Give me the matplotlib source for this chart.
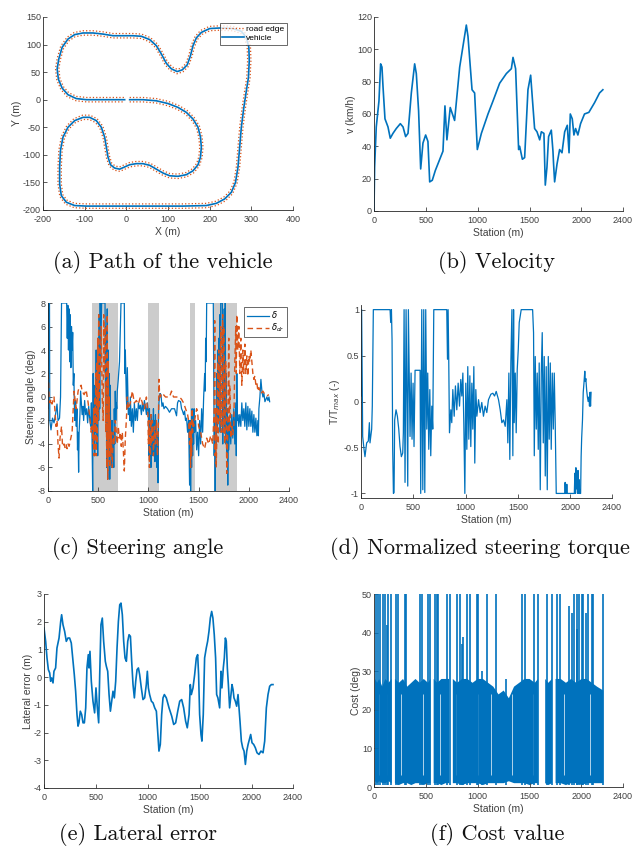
import numpy as np
import matplotlib
matplotlib.use("Agg")
import matplotlib.pyplot as plt

plt.rcParams['font.family'] = ['Liberation Sans', 'DejaVu Sans']
plt.rcParams['axes.unicode_minus'] = False

BLUE = '#0072BD'
ORANGE = '#D95319'
GREY = '#404040'

# ---------------- (a) path of the vehicle: (x, y) in m ----------------
path_xy = [(8, 0), (40, 0), (72, -2), (100, -7), (124, -14), (144, -23), (160, -35), (172, -50),
           (178, -68), (180, -86), (178, -104), (172, -118), (160, -129), (144, -136),
           (124, -139), (104, -138), (88, -133), (72, -126), (56, -119), (40, -116), (24, -116),
           (8, -118), (-4, -122), (-16, -126), (-28, -124), (-38, -118), (-44, -104),
           (-48, -86), (-52, -68), (-60, -50), (-72, -38), (-88, -32), (-104, -32), (-124, -38),
           (-140, -50), (-152, -68), (-158, -92), (-160, -122), (-160, -153), (-156, -174),
           (-144, -186), (-124, -192), (-96, -193), (-24, -193), (56, -193), (136, -193),
           (192, -192), (216, -188), (236, -180), (252, -168), (262, -150), (268, -122),
           (272, -86), (276, -50), (282, -14), (288, 16), (293, 40), (295, 71), (294, 95),
           (288, 113), (276, 124), (256, 129), (224, 130), (200, 129), (180, 122), (168, 112),
           (160, 98), (154, 80), (146, 63), (134, 54), (122, 51), (108, 56), (96, 66), (84, 83),
           (72, 98), (56, 109), (36, 115), (16, 116), (-4, 116), (-32, 116), (-56, 119),
           (-80, 121), (-104, 121), (-124, 118), (-140, 110), (-154, 95), (-162, 74),
           (-166, 56), (-163, 37), (-154, 21), (-140, 9), (-120, 2), (-96, 0), (-48, 0), (-4, 0)]
edge_offset = [4.0, -4.0]

# ---------------- (b) velocity: (station, km/h) ----------------
vel_pts = [(0, 0), (6, 27), (22, 52), (48, 68), (64, 91), (77, 89), (87, 77), (106, 57), (135, 52),
           (157, 45), (183, 48), (215, 51), (254, 54), (280, 52), (305, 46), (328, 48), (360, 73),
           (392, 91), (408, 85), (430, 62), (450, 26), (472, 42), (498, 47), (520, 43), (537, 18),
           (562, 19), (591, 25), (665, 37), (684, 65), (703, 44), (735, 64), (777, 56), (826, 89),
           (890, 115), (906, 108), (945, 75), (970, 73), (996, 38), (1035, 48), (1099, 60),
           (1147, 68), (1211, 79), (1276, 85), (1324, 88), (1340, 95), (1365, 88), (1394, 38),
           (1404, 40), (1430, 32), (1452, 33), (1484, 75), (1510, 84), (1526, 70), (1548, 51),
           (1571, 49), (1597, 44), (1613, 49), (1638, 48), (1651, 16), (1667, 27), (1683, 46),
           (1709, 50), (1725, 37), (1731, 29), (1741, 18), (1764, 29), (1789, 38), (1812, 36),
           (1838, 49), (1863, 53), (1880, 36), (1892, 60), (1911, 57), (1927, 47), (1943, 51),
           (1965, 47), (1991, 54), (2029, 60), (2071, 61), (2126, 67), (2174, 73), (2206, 75)]

# ---------------- (c) steering angle: (station, deg) ----------------
shade_start = [440, 995, 1410, 1655]
shade_end = [700, 1105, 1460, 1880]

delta_pts = [(0, -1), (3, 8), (15, 8), (18, -2), (30, -2.8), (45, -1.8), (60, -2.2), (75, -1.5),
             (90, -0.6), (100, -2), (115, -1.8), (125, 0), (135, 8), (186, 8), (192, 5),
             (198, 7.8), (204, 4), (210, 7.5), (216, 3), (222, 7), (228, 2.5), (234, 6), (240, 4),
             (246, 5.5), (252, 1), (258, 2), (262, -0.5), (268, -2), (275, -0.3), (282, -2.5),
             (288, -1), (294, -4.5), (299, -3), (305, -6.4), (310, -3), (318, -1.5), (325, 0.5),
             (332, -0.5), (340, -1.5), (348, -0.8), (355, -2), (365, -0.3), (375, -1.5),
             (385, -1), (395, -2.2), (405, -0.8), (415, -1.8), (425, -2.5), (432, -0.5),
             (438, -3), (445, -8), (450, 2), (455, -4), (460, 1), (465, -5), (470, 0), (475, -3),
             (480, 4), (485, -4), (490, 2), (495, -5), (500, 5), (505, -2), (510, 7), (515, -1),
             (520, 8), (525, 3), (534, 8), (568, 8), (575, -2), (580, 6), (585, -6), (590, 7.5),
             (595, -7), (600, 4), (605, -5), (610, 2), (615, -7), (620, 1), (625, -5), (630, -2),
             (635, -6), (640, -2), (645, -5), (650, -3), (655, -6), (660, -1), (665, -4),
             (670, 0.5), (675, -2), (680, -0.5), (685, -1), (690, 0.5), (700, 1.5), (712, 3),
             (727, 8), (760, 8), (765, 2), (770, 4), (780, 0), (785, -1), (790, 2.5),
             (800, -1.5), (810, -1), (815, -2), (820, 0), (830, -2.5), (840, -1), (850, -3),
             (860, -0.5), (870, -2), (880, -1), (890, -2), (900, -0.5), (910, -1), (920, -0.7),
             (930, -1.5), (940, -0.5), (950, -1.2), (960, -0.3), (970, -0.8), (980, -1.5),
             (990, -0.5), (998, -1.2), (1000, -2), (1005, -5), (1010, -1), (1015, -4),
             (1020, -2), (1025, -6), (1030, -1.5), (1035, -4), (1040, -2), (1045, -5),
             (1050, -1), (1055, -4.5), (1060, -2), (1065, -5.5), (1070, -1.5), (1075, -4),
             (1080, -2.5), (1085, -6), (1090, -3), (1095, -7.3), (1100, -2), (1105, -0.5),
             (1115, 0.3), (1125, 0.2), (1135, -0.8), (1145, -0.5), (1155, -1), (1170, -0.8),
             (1190, -1), (1210, -1.3), (1230, -1), (1260, -1), (1280, -1.6), (1290, -0.5),
             (1300, -0.3), (1320, -0.4), (1330, -1), (1340, -1.2), (1350, -1.5), (1360, -1.2),
             (1370, -2), (1380, -1.8), (1390, -3), (1400, -2), (1410, -7.5), (1415, -2),
             (1420, -8), (1425, -3), (1430, -6), (1435, -1), (1440, -5), (1445, -2), (1450, -4),
             (1455, -1), (1460, -3), (1470, -2), (1480, -4.5), (1490, -3), (1500, -5),
             (1510, -2), (1520, -4), (1530, -1), (1540, -3), (1550, 0), (1560, 2), (1565, 0.5),
             (1570, 5), (1575, 3), (1580, 8), (1646, 8), (1655, -5), (1660, -2), (1665, -8),
             (1670, -1), (1675, -4), (1680, 2), (1685, -3), (1690, 4), (1695, -2), (1700, 5),
             (1705, -1), (1710, 7), (1715, -3), (1720, 8), (1736, 8), (1740, -4), (1745, 6),
             (1750, -2), (1755, 7.5), (1760, -3), (1765, 8), (1770, -4), (1775, 2), (1780, -5),
             (1785, -1), (1790, -7.5), (1795, -2), (1800, -4.5), (1810, -2), (1820, -4),
             (1830, -1.5), (1840, -3.5), (1850, -1), (1860, -4), (1870, -0.5), (1875, -5),
             (1880, 2), (1885, -2), (1890, -1.5), (1900, -2.5), (1910, -1.5), (1920, -2.5),
             (1930, -0.5), (1940, -2), (1950, -1), (1960, -2.5), (1970, -0.5), (1980, -2.8),
             (1990, -0.8), (2000, -2.5), (2010, -1), (2020, -2.5), (2030, -1.2), (2040, -3),
             (2050, -1.5), (2060, -3), (2070, -1.8), (2080, -3.3), (2090, -2), (2095, -3.3),
             (2100, -1), (2110, 0), (2120, 1.5), (2130, 0.5), (2140, 0), (2150, 0.3),
             (2160, -0.4), (2170, -0.2), (2180, 0), (2190, -0.3), (2200, 0), (2207, -0.4)]

ddr_pts = [(0, 2), (5, 1.5), (10, 0), (20, -0.5), (30, -0.2), (40, -0.6), (50, -0.2), (60, 0),
           (80, -2.5), (90, -2), (100, -4), (110, -5.2), (120, -3.5), (135, -2.5), (145, -4.2),
           (160, -4), (170, -4.3), (180, -4), (190, -4.4), (200, -4), (210, -4.2), (220, -3.8),
           (240, -3), (260, 0.5), (280, -1), (300, 0.5), (310, 0.8), (330, 1), (340, 0.5),
           (360, 0.2), (380, 0.6), (400, -0.5), (420, -2), (430, -3), (440, -2.5), (450, -4),
           (455, -1), (460, -5), (465, 0), (470, -3), (475, 2), (480, -5), (485, 3), (490, -4),
           (495, 5), (500, -2), (505, 7), (510, -1), (515, 4), (520, 2), (530, 6), (540, 0),
           (550, -2), (555, 7), (560, 2), (570, 6), (575, -3), (580, 1), (585, -6), (590, 7),
           (595, -7), (600, 3), (605, -5), (610, 0), (615, -6), (620, -2), (625, -5), (630, -3),
           (640, -6), (650, -3), (660, -4), (670, -2), (680, -3), (690, -4), (700, -2.5),
           (710, -3.5), (720, -3), (730, -4.2), (740, -3), (750, -4.5), (760, -6.3),
           (770, -3.5), (780, -2), (790, 0), (800, -1), (820, -0.5), (840, 0.5), (860, -0.5),
           (880, -0.3), (900, -0.6), (920, 0), (940, -0.5), (960, -1), (980, 0), (995, -1.5),
           (1000, -4), (1005, -2), (1010, -6), (1015, -3), (1020, -5), (1025, -1.5),
           (1030, -4), (1040, -2), (1050, -5), (1060, -2.5), (1070, -4), (1080, -2), (1090, -5),
           (1100, -2), (1105, 1.5), (1110, 0.5), (1120, 0), (1130, 0.3), (1150, 0.2), (1170, 0),
           (1190, 0), (1210, 0), (1230, 0.5), (1250, 0), (1270, 0), (1290, 0), (1310, 0),
           (1330, -0.2), (1350, -0.5), (1370, -1), (1390, -1.5), (1400, -2), (1410, -4),
           (1415, -2), (1420, -6), (1425, -3), (1430, -5), (1435, -1), (1440, -3), (1445, -2),
           (1450, -2.5), (1460, -2), (1470, -1.5), (1480, -1), (1490, -1.3), (1500, -2.5),
           (1520, -3), (1540, -4), (1560, -4.4), (1580, -3.5), (1600, -4), (1620, -3.3),
           (1640, -4), (1655, -1), (1660, 6.5), (1665, -5), (1670, -1), (1675, -6), (1680, -4),
           (1690, 3), (1695, -4), (1700, 4), (1710, -2), (1720, 6), (1725, -3), (1730, 4),
           (1740, 7), (1745, -3), (1750, 6), (1755, -1), (1760, -4), (1770, 3), (1780, -6.5),
           (1790, -3), (1800, 5), (1805, -3), (1810, 1), (1820, -3.5), (1830, -2.5),
           (1840, -3.2), (1850, -2.5), (1860, 3), (1870, 6), (1875, 2), (1880, 7), (1890, 4),
           (1900, 6), (1910, 2), (1920, 5), (1930, 1), (1940, 4), (1950, 2), (1960, 4.5),
           (1970, 2), (1980, 3.5), (1990, 1.8), (2000, 3.5), (2010, 3), (2020, 4), (2030, 3),
           (2040, 2), (2050, 1.5), (2060, 1.8), (2070, 1), (2080, 1.2), (2090, 0.5), (2100, 0.8),
           (2120, 0.3), (2140, 0.5), (2160, 0.2), (2180, 0.1), (2200, 0.2)]

# ---------------- (d) normalized steering torque: (station, T/Tmax) ----------------
torque_pts = [(0, 0.06), (6, 1), (16, -0.38), (29, -0.52), (38, -0.6), (54, -0.45), (70, -0.43),
              (80, -0.23), (86, -0.45), (102, -0.3), (108, -0.05), (112, 0.35), (118, 1),
              (278, 1), (284, 0.86), (291, 1), (297, 0.67), (303, -0.52), (310, -1),
              (316, -0.99), (322, -0.2), (335, -0.09), (348, -0.16), (361, -0.3), (373, -0.49),
              (386, -0.6), (399, -0.56), (405, -0.34), (412, 1), (421, -0.88), (431, 1),
              (440, -0.05), (447, -0.92), (453, 1), (463, 0.13), (469, -0.38), (479, 0.31),
              (488, -0.41), (498, 0.2), (507, -0.49), (517, 0.34), (565, 0.34), (571, -1),
              (581, 1), (591, -0.96), (600, 1), (610, -0.99), (619, 1), (629, -0.3), (638, 0.31),
              (648, -0.52), (658, 0.13), (667, -0.59), (677, -0.05), (686, -0.3), (696, 1),
              (820, 1), (827, 0.46), (833, 1), (839, 0.46), (846, -0.34), (859, -0.09),
              (868, -0.23), (878, 0.13), (891, -0.16), (903, 0.17), (916, -0.09), (929, 0.2),
              (942, -0.05), (954, 0.24), (964, 0.06), (974, 0.31), (983, -0.23), (993, -1),
              (1002, 0.2), (1012, -0.52), (1021, 0.38), (1031, -0.41), (1041, 0.28),
              (1050, -0.49), (1060, 0.2), (1069, -0.3), (1079, 0.38), (1088, -0.67),
              (1098, 0.13), (1108, -0.16), (1124, 0.02), (1139, -0.12), (1155, -0.01),
              (1171, -0.16), (1187, -0.05), (1203, -0.12), (1219, 0.02), (1242, 0.08),
              (1261, 0.09), (1277, 0.06), (1293, 0.11), (1315, 0.02), (1331, -0.09),
              (1347, -0.23), (1363, -0.2), (1379, -0.27), (1395, 0.02), (1404, -0.45),
              (1414, 0.31), (1423, -0.63), (1433, 0.42), (1443, 1), (1452, -0.59), (1459, 1),
              (1465, -0.23), (1475, 0.31), (1484, -0.34), (1494, 0.35), (1504, 0.57),
              (1513, 0.86), (1523, 0.93), (1532, 1), (1641, 1), (1650, 0.75), (1657, -0.59),
              (1666, 0.49), (1676, -0.3), (1685, 0.31), (1695, -0.52), (1704, 0.42),
              (1714, -0.96), (1724, 0.31), (1733, 0.75), (1743, -0.45), (1752, 0.49),
              (1762, -0.81), (1771, 0.38), (1781, -0.96), (1791, 0.49), (1800, -0.41),
              (1810, 0.42), (1819, -0.52), (1829, 0.31), (1839, -0.3), (1848, 0.31),
              (1857, -0.23), (1867, -1), (1950, -1), (1952, -0.88), (1955, -1), (1965, -1),
              (1968, -0.9), (1971, -1), (2040, -1), (2045, -0.78), (2050, -1), (2055, -0.72),
              (2060, -0.95), (2065, -0.8), (2070, -1), (2075, -0.75), (2080, -1), (2085, -0.85),
              (2090, -1), (2100, -1), (2105, -0.6), (2110, -0.4), (2118, -0.2), (2125, 0.1),
              (2132, 0.2), (2140, 0.33), (2145, 0.22), (2150, 0.25), (2158, 0.12), (2165, 0.05),
              (2172, 0.0), (2180, 0.05), (2185, -0.05), (2190, 0.1), (2195, -0.05), (2200, 0.1)]

# ---------------- (e) lateral error: (station, m) ----------------
lat_pts = [(0, 1.77), (16, 1.29), (29, 0.69), (42, 0.27), (55, 0.15), (64, -0.15), (74, -0.03),
           (87, -0.21), (96, 0.21), (112, 0.33), (125, 1.05), (145, 1.41), (161, 2.01),
           (170, 2.25), (183, 1.89), (199, 1.65), (215, 1.29), (231, 1.41), (247, 1.41),
           (263, 1.23), (280, 0.57), (292, 0.09), (305, -0.51), (318, -1.35), (328, -1.77),
           (337, -1.65), (350, -1.23), (363, -1.35), (376, -1.65), (389, -1.65), (402, -1.11),
           (414, 0.33), (427, 0.81), (434, 0.33), (443, 0.93), (456, -0.15), (472, -0.87),
           (488, -1.29), (501, -0.39), (514, -1.11), (527, -1.65), (537, 0.09), (549, 1.89),
           (562, 2.13), (575, 1.29), (591, 0.57), (601, 0.39), (614, 0.21), (627, -0.63),
           (640, -1.23), (652, -0.87), (665, -0.51), (678, -0.75), (691, -0.15), (704, 1.05),
           (717, 2.01), (730, 2.61), (742, 2.67), (755, 2.25), (768, 1.29), (781, 0.69),
           (794, 0.57), (807, 1.29), (820, 1.53), (833, 1.47), (845, 0.57), (858, -0.27),
           (871, -0.75), (884, -0.15), (897, 0.27), (910, 0.33), (922, 0.09), (938, -0.39),
           (954, -0.81), (970, -0.75), (986, -0.27), (996, 0.21), (1006, -0.39), (1018, -0.63),
           (1035, -0.87), (1051, -0.93), (1067, -1.11), (1083, -1.23), (1096, -1.95),
           (1108, -2.67), (1121, -2.43), (1134, -1.35), (1147, -0.75), (1160, -0.63),
           (1179, -0.75), (1205, -1.11), (1231, -1.41), (1250, -1.71), (1269, -1.65),
           (1289, -1.23), (1308, -0.87), (1327, -0.81), (1346, -1.11), (1365, -1.59),
           (1381, -1.83), (1398, -1.35), (1410, -0.27), (1420, -0.63), (1436, -0.39),
           (1452, 0.09), (1468, 0.69), (1481, 0.81), (1490, 0.09), (1500, -1.35), (1513, -2.07),
           (1522, -2.31), (1535, -1.35), (1548, 0.69), (1564, 1.05), (1577, 1.29), (1590, 1.65),
           (1603, 2.13), (1616, 2.37), (1628, 2.13), (1641, 1.53), (1654, 0.69), (1664, -0.63),
           (1676, -0.75), (1693, -1.11), (1706, 0.21), (1715, -0.39), (1728, 0.33), (1738, 0.69),
           (1748, 1.41), (1757, 1.29), (1767, 0.33), (1777, -0.27), (1789, -1.11),
           (1799, -0.75), (1812, -0.27), (1822, -0.45), (1831, -0.75), (1844, -0.87),
           (1857, -1.05), (1870, -0.63), (1880, -1.11), (1889, -1.59), (1902, -2.31),
           (1915, -2.55), (1928, -2.67), (1941, -3.15), (1954, -2.67), (1967, -2.43),
           (1983, -2.19), (1992, -2.07), (2005, -2.37), (2021, -2.43), (2037, -2.55),
           (2053, -2.73), (2072, -2.79), (2091, -2.67), (2111, -2.73), (2127, -2.31),
           (2143, -1.11), (2159, -0.63), (2175, -0.33), (2191, -0.27), (2207, -0.27)]

# ---------------- (f) cost value: band envelope + spikes ----------------
cost_s = [10, 30, 50, 80, 110, 140, 170, 171, 202, 240, 280, 320, 360, 400, 440, 480, 520, 545,
          546, 575, 610, 650, 690, 725, 726, 760, 800, 850, 900, 950, 1000, 1050, 1100, 1150,
          1200, 1250, 1300, 1350, 1400, 1450, 1500, 1550, 1580, 1581, 1650, 1680, 1715, 1716,
          1750, 1800, 1850, 1900, 1950, 2000, 2050, 2100, 2150, 2210]
cost_hi = [28, 27, 28, 26, 28, 27, 28, np.nan, 28, 27, 28, 26, 27, 28, 27, 28, 27, 28, np.nan,
           28, 27, 28, 28, 28, np.nan, 28, 27, 28, 28, 27, 28, 28, 27, 26, 24, 25, 23, 26, 27,
           28, 28, 27, 28, np.nan, 28, 27, 28, np.nan, 28, 28, 27, 28, 27, 28, 28, 27, 26, 25]
cost_lo = [1.5, 1, 1.5, 1, 1, 1.5, 1, np.nan, 1, 0.5, 1, 1, 0.5, 1, 1, 0.5, 1, 1, np.nan, 1, 1,
           0.5, 1, 1, np.nan, 1, 1, 0.5, 1, 1, 1, 0.5, 1, 1, 1, 1, 1.5, 1, 1, 1, 0.5, 1, 1,
           np.nan, 1, 0.5, 1, np.nan, 1, 1, 0.5, 1, 1, 0.5, 1, 1, 1, 1]
spike_pts = [(19, 50), (42, 50), (58, 50), (90, 50), (106, 50), (138, 50), (161, 50), (212, 50),
             (235, 50), (299, 50), (308, 50), (443, 50), (459, 50), (524, 50), (540, 50),
             (588, 50), (604, 50), (620, 50), (707, 50), (733, 50), (803, 50), (829, 50),
             (858, 39), (893, 50), (925, 50), (990, 50), (1006, 50), (1086, 50), (1176, 50),
             (1423, 50), (1455, 50), (1542, 50), (1584, 50), (1664, 50), (1712, 50), (1760, 50),
             (1793, 50), (1905, 45), (1928, 50), (1953, 50), (1979, 50), (2001, 50), (2018, 50),
             (2066, 50), (2098, 50), (2114, 50), (2210, 50), (130, 42), (845, 37), (1040, 30),
             (1270, 28), (1880, 47), (1960, 41), (2040, 45)]
# thin white gaps inside the cost band (station)
cost_gaps = [48, 125, 262, 470, 640, 795, 1000, 1130, 1330, 1530, 1830, 2080]

station_ticks = [0, 500, 1000, 1500, 2000, 2400]


def style(ax):
    for side in ['top', 'right']:
        ax.spines[side].set_visible(False)
    for side in ['left', 'bottom']:
        ax.spines[side].set_color('#262626')
        ax.spines[side].set_linewidth(0.6)
    ax.tick_params(direction='in', length=3, width=0.6, labelsize=6.5, colors=GREY)
    ax.tick_params(axis='x', pad=3.5)
    ax.tick_params(axis='y', pad=1.5)


def xy(pts):
    a = np.array(pts, dtype=float)
    return a[:, 0], a[:, 1]


def labels(ax, xl, yl):
    ax.set_xlabel(xl, fontsize=7.5, color=GREY, labelpad=2)
    ax.set_ylabel(yl, fontsize=7.5, color=GREY, labelpad=1)


fig = plt.figure(figsize=(6.33, 8.49), dpi=100)

# (a)
ax = fig.add_axes([0.0679, 0.7527, 0.395, 0.2273])
px, py = xy(path_xy)
dx = np.gradient(px)
dy = np.gradient(py)
nn = np.hypot(dx, dy)
for i, off in enumerate(edge_offset):
    ax.plot(px - off * dy / nn, py + off * dx / nn, ':', color=ORANGE, lw=0.9,
            label='road edge' if i == 0 else None)
ax.plot(px, py, '-', color=BLUE, lw=1.2, label='vehicle')
ax.set_xlim(-200, 400)
ax.set_ylim(-200, 150)
ax.set_xticks(range(-200, 401, 100))
ax.set_yticks(range(-200, 151, 50))
labels(ax, 'X (m)', 'Y (m)')
leg = ax.legend(loc='upper right', bbox_to_anchor=(0.976, 0.969), fontsize=6, fancybox=False,
                handlelength=2.6, borderpad=0.3, labelspacing=0.15, handletextpad=0.3,
                borderaxespad=0)
leg.get_frame().set_edgecolor('#262626')
leg.get_frame().set_linewidth(0.6)
style(ax)

# (b)
ax = fig.add_axes([0.5908, 0.7515, 0.3934, 0.2285])
s, v = xy(vel_pts)
ax.plot(s, v, color=BLUE, lw=1.2)
ax.set_xlim(0, 2400)
ax.set_ylim(0, 120)
ax.set_xticks(station_ticks)
ax.set_yticks(range(0, 121, 20))
labels(ax, 'Station (m)', 'v (km/h)')
style(ax)

# (c)
ax = fig.add_axes([0.0758, 0.4217, 0.3808, 0.2214])
for a, b in zip(shade_start, shade_end):
    ax.axvspan(a, b, color='#cccccc', lw=0, zorder=0)
s, v = xy(delta_pts)
ax.plot(s, v, '-', color=BLUE, lw=0.9, label=r'$\delta$')
s, v = xy(ddr_pts)
ax.plot(s, v, '--', color=ORANGE, lw=1.0, dashes=(4, 2.5), label=r'$\delta_{dr}$')
ax.set_xlim(0, 2400)
ax.set_ylim(-8, 8)
ax.set_xticks(station_ticks)
ax.set_yticks(range(-8, 9, 2))
labels(ax, 'Station (m)', 'Steering angle (deg)')
leg = ax.legend(loc='upper right', bbox_to_anchor=(0.992, 0.979), fontsize=6, fancybox=False,
                handlelength=2.6, borderpad=0.3, labelspacing=0.15, handletextpad=0.3,
                borderaxespad=0)
leg.get_frame().set_edgecolor('#262626')
leg.get_frame().set_linewidth(0.6)
style(ax)

# (d)
ax = fig.add_axes([0.5703, 0.4134, 0.3965, 0.2273])
s, v = xy(torque_pts)
ax.plot(s, v, color=BLUE, lw=0.9)
ax.set_xlim(0, 2400)
ax.set_ylim(-1.05, 1.05)
ax.set_xticks(station_ticks)
ax.set_yticks([-1, -0.5, 0, 0.5, 1])
ax.set_yticklabels(['-1', '-0.5', '0', '0.5', '1'])
labels(ax, 'Station (m)', r'T/T$_{max}$ (-)')
style(ax)

# (e)
ax = fig.add_axes([0.0695, 0.0719, 0.3934, 0.2285])
s, v = xy(lat_pts)
ax.plot(s, v, color=BLUE, lw=1.2)
ax.set_xlim(0, 2400)
ax.set_ylim(-4, 3)
ax.set_xticks(station_ticks)
ax.set_yticks(range(-4, 4))
labels(ax, 'Station (m)', 'Lateral error (m)')
style(ax)

# (f)
ax = fig.add_axes([0.5908, 0.0730, 0.3934, 0.2273])
ax.fill_between(cost_s, cost_lo, cost_hi, color=BLUE, lw=0)
ax.vlines(cost_gaps, 3, 24, color='white', lw=0.6, alpha=0.8)
s, v = xy(spike_pts)
ax.vlines(s, 0.5, v, color=BLUE, lw=1.2)
ax.set_xlim(0, 2400)
ax.set_ylim(0, 50)
ax.set_xticks(station_ticks)
ax.set_yticks(range(0, 51, 10))
labels(ax, 'Station (m)', 'Cost (deg)')
style(ax)

captions = ['(a) Path of the vehicle', '(b) Velocity', '(c) Steering angle',
            '(d) Normalized steering torque', '(e) Lateral error', '(f) Cost value']
cap_x = [163, 497, 138, 480, 138, 497]
cap_y = [262, 262, 548, 548, 835, 835]
for t, x, y in zip(captions, cap_x, cap_y):
    fig.text(x / 633, 1 - y / 849, t, ha='center', va='center', fontfamily='cmr10',
             fontsize=16, color='#111111')

fig.savefig('out.png', dpi=100)
